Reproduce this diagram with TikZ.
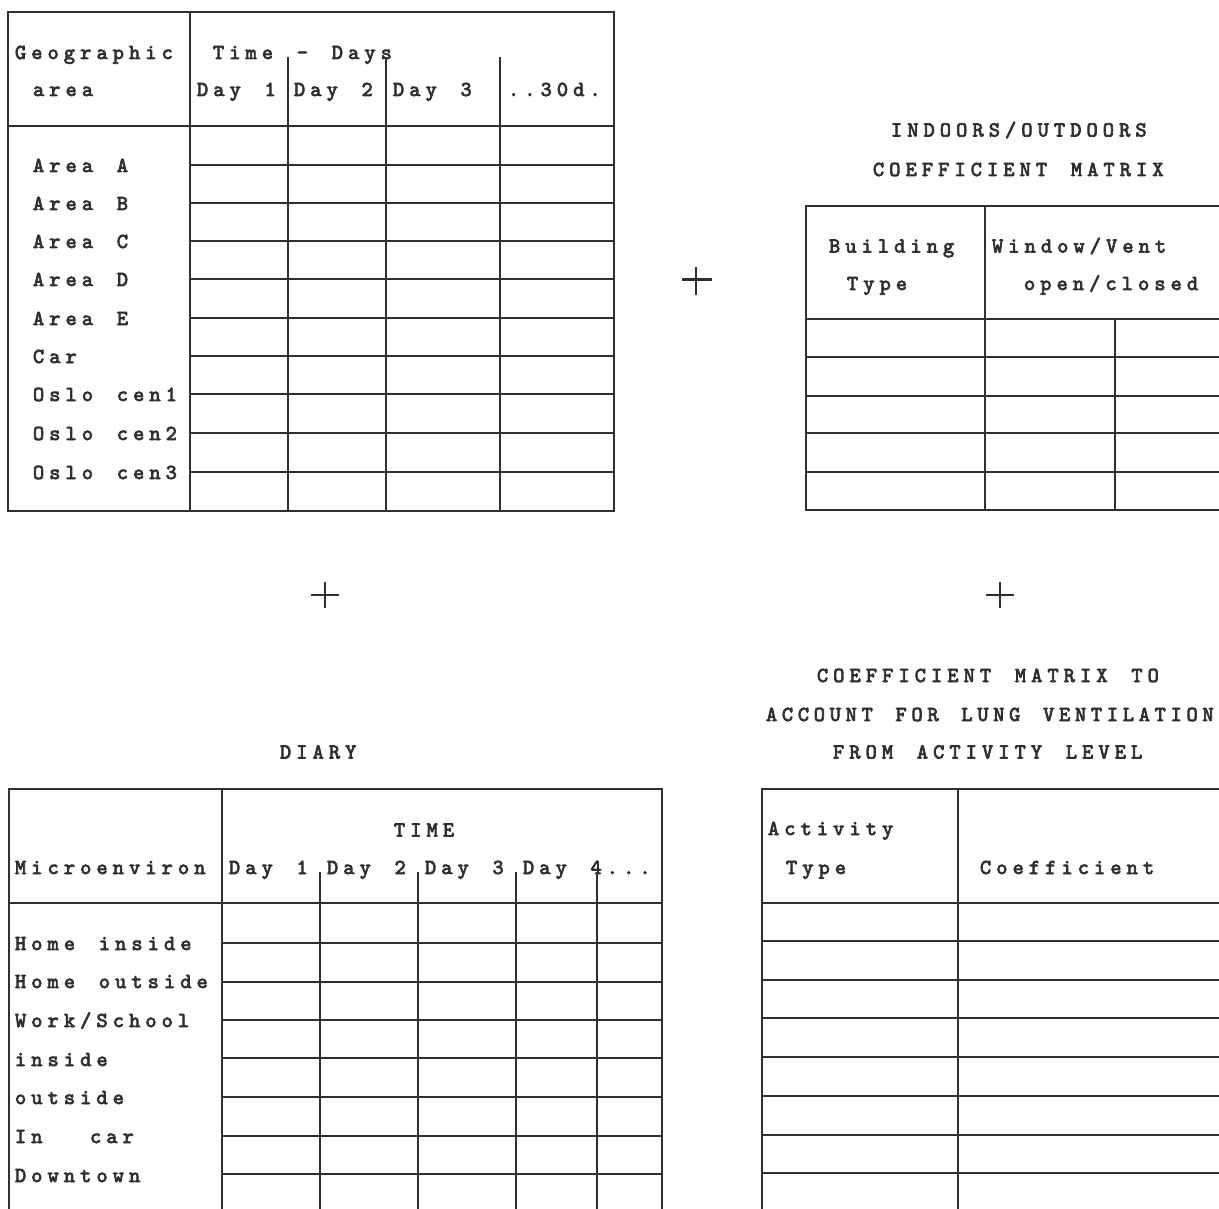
\documentclass[tikz,border=0pt]{standalone}
\usepackage{fontspec}
\newfontfamily\tfont{lmmono10-regular.otf}[FakeBold=3.5,LetterSpace=24,WordSpace={1.46,0,0}]
\newfontfamily\tfontnarrow{lmmono10-regular.otf}[FakeBold=3.5,LetterSpace=22.3,WordSpace={1.43,0,0}]
\definecolor{ink}{HTML}{303030}
\tikzset{
  grid/.style={line width=2.8pt, draw=ink, line cap=rect},
  plusmark/.style={line width=2.6pt, draw=ink},
  txt/.style={anchor=base west, inner sep=0pt, outer sep=0pt, text=ink,
    font=\tfont\fontsize{21.3}{25}\selectfont},
  txtnarrow/.style={txt, font=\tfontnarrow\fontsize{21.3}{25}\selectfont}
}
\begin{document}
\begin{tikzpicture}[x=1pt,y=-1pt]
\useasboundingbox (0,0) rectangle (1219,1209);
\clip (0,0) rectangle (1219,1209);
\fill[white] (0,0) rectangle (1219,1209);

% ---------- Table 1: geographic area ----------
\draw[grid] (8,12) rectangle (614,511);
\draw[grid] (190,12) -- (190,511);
\draw[grid] (8,126) -- (614,126);
\foreach \x in {288,386,500} \draw[grid] (\x,58) -- (\x,511);
\foreach \y in {165,203,241,279,318,356,394,433,472} \draw[grid] (190,\y) -- (614,\y);
\node[txt] (geo) at (15,59) {Geographic};
\node[txt] (geoarea) at (33,96) {area};
\node[txt] (timedays) at (213,59) {Time - Days};
\node[txt] (ad1) at (197,96) {Day 1};
\node[txt] (ad2) at (294,96) {Day 2};
\node[txt] (ad3) at (393,96) {Day 3};
\node[txt] (ad30) at (508,96) {..30d.};
\node[txt] (ra) at (33,172) {Area A};
\node[txt] (rb) at (33,210) {Area B};
\node[txt] (rc) at (33,248) {Area C};
\node[txt] (rd) at (33,286) {Area D};
\node[txt] (re) at (33,325) {Area E};
\node[txt] (rcar) at (33,363) {Car};
\node[txt] (ro1) at (33,401) {Oslo cen1};
\node[txt] (ro2) at (33,440) {Oslo cen2};
\node[txt] (ro3) at (33,479) {Oslo cen3};

% ---------- Table 2: indoors/outdoors ----------
\node[txt] (iot1) at (891,136.5) {INDOORS/OUTDOORS};
\node[txt] (iot2) at (873,176) {COEFFICIENT MATRIX};
\draw[grid] (1230,206) -- (806,206) -- (806,510) -- (1230,510);
\draw[grid] (985,206) -- (985,510);
\draw[grid] (806,319) -- (1230,319);
\draw[grid] (1115,319) -- (1115,510);
\foreach \y in {357,396,433,472} \draw[grid] (806,\y) -- (1230,\y);
\node[txt] (bld) at (829,252.5) {Building};
\node[txt] (bty) at (847,290) {Type};
\node[txt] (win) at (992,252.5) {Window/Vent};
\node[txt] (opc) at (1024,290) {open/closed};

% ---------- plus signs ----------
\draw[plusmark] (682,279.5) -- (712,279.5) (696,267) -- (696,295);
\draw[plusmark] (311,595) -- (339,595) (325,582) -- (325,608);
\draw[plusmark] (986,595) -- (1014,595) (1000,582) -- (1000,608);

% ---------- Table 3: diary ----------
\node[txt] (diary) at (280,758.5) {DIARY};
\draw[grid] (9,1230) -- (9,789) -- (662,789) -- (662,1230);
\draw[grid] (222,789) -- (222,1230);
\draw[grid] (9,903) -- (662,903);
\foreach \x in {320,418,516,597} \draw[grid] (\x,873) -- (\x,1230);
\foreach \y in {943,982,1020,1058,1097,1136,1174} \draw[grid] (222,\y) -- (662,\y);
\node[txt] (time) at (394,836.5) {TIME};
\node[txt] (micro) at (15,874) {Microenviron};
\node[txt] (dd1) at (229,874) {Day 1};
\node[txt] (dd2) at (327,874) {Day 2};
\node[txt] (dd3) at (425,874) {Day 3};
\node[txt] (dd4) at (523,874) {Day 4...};
\node[txt] (hin) at (15,950) {Home inside};
\node[txt] (hout) at (15,988) {Home outside};
\node[txt] (work) at (15,1027) {Work/School};
\node[txt] (ins) at (15,1066) {inside};
\node[txt] (outs) at (15,1104) {outside};
\node[txt] (incar) at (15,1143) {In~~car};
\node[txt] (down) at (15,1182) {Downtown};

% ---------- Table 4: activity coefficient ----------
\node[txt] (ct1) at (817,682) {COEFFICIENT MATRIX TO};
\node[txtnarrow] (ct2) at (766,721) {ACCOUNT FOR LUNG VENTILATION};
\node[txt] (ct3) at (833,758.5) {FROM ACTIVITY LEVEL};
\draw[grid] (762,1230) -- (762,789) -- (1230,789);
\draw[grid] (958,789) -- (958,1230);
\draw[grid] (762,903) -- (1230,903);
\foreach \y in {941,980,1018,1057,1096,1135,1173} \draw[grid] (762,\y) -- (1230,\y);
\node[txt] (act) at (768,835) {Activity};
\node[txt] (aty) at (786,874) {Type};
\node[txt] (coef) at (980,874) {Coefficient};
\end{tikzpicture}
\end{document}
